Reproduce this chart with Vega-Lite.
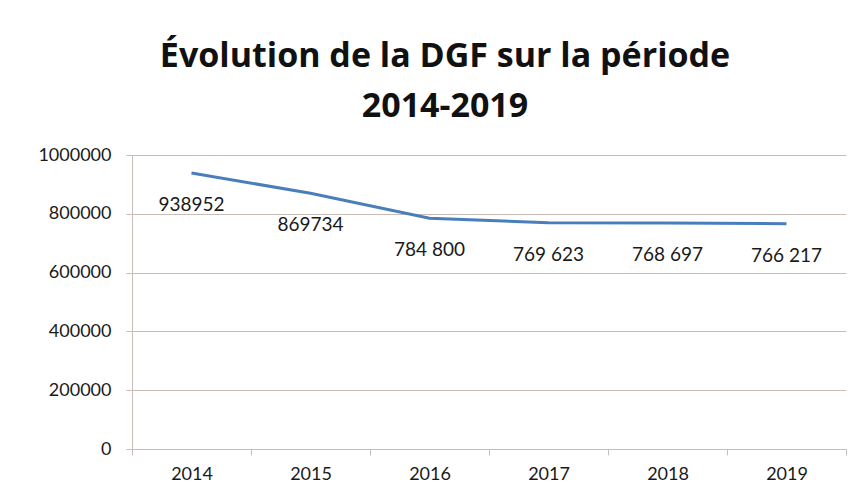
{
  "$schema": "https://vega.github.io/schema/vega-lite/v6.json",
  "width": 714,
  "height": 294,
  "autosize": {"type": "none"},
  "padding": {"left": 132, "top": 155, "right": 10, "bottom": 41},
  "background": "white",
  "title": {
    "text": ["Évolution de la DGF sur la période", "2014-2019"],
    "font": "Open Sans",
    "fontSize": 34,
    "fontWeight": "bold",
    "color": "#111111",
    "lineHeight": 50,
    "offset": 22,
    "dx": -44,
    "anchor": "middle"
  },
  "data": {
    "values": [
      {"year": "2014", "dgf": 938952, "label": "938952"},
      {"year": "2015", "dgf": 869734, "label": "869734"},
      {"year": "2016", "dgf": 784800, "label": "784 800"},
      {"year": "2017", "dgf": 769623, "label": "769 623"},
      {"year": "2018", "dgf": 768697, "label": "768 697"},
      {"year": "2019", "dgf": 766217, "label": "766 217"}
    ]
  },
  "config": {
    "view": {"stroke": null},
    "axis": {
      "labelFont": "Lato",
      "labelFontSize": 18,
      "labelColor": "#1a1a1a",
      "domainColor": "#c9bcb6",
      "tickColor": "#c9bcb6",
      "gridColor": "#c9bcb6",
      "title": null
    }
  },
  "encoding": {
    "x": {
      "field": "year",
      "type": "ordinal",
      "scale": {"type": "band", "paddingInner": 0, "paddingOuter": 0},
      "axis": {"labelAngle": 0, "tickBand": "extent", "tickSize": 6, "labelPadding": 10, "grid": false}
    },
    "y": {
      "field": "dgf",
      "type": "quantitative",
      "scale": {"domain": [0, 1000000]},
      "axis": {"values": [0, 200000, 400000, 600000, 800000, 1000000], "format": "d", "tickSize": 6, "labelPadding": 15, "grid": true}
    }
  },
  "layer": [
    {
      "mark": {"type": "line", "color": "#4a7ebb", "strokeWidth": 3}
    },
    {
      "mark": {"type": "text", "font": "Lato", "fontSize": 19, "color": "#1a1a1a", "dy": 32, "baseline": "middle"},
      "encoding": {"text": {"field": "label"}}
    }
  ]
}
